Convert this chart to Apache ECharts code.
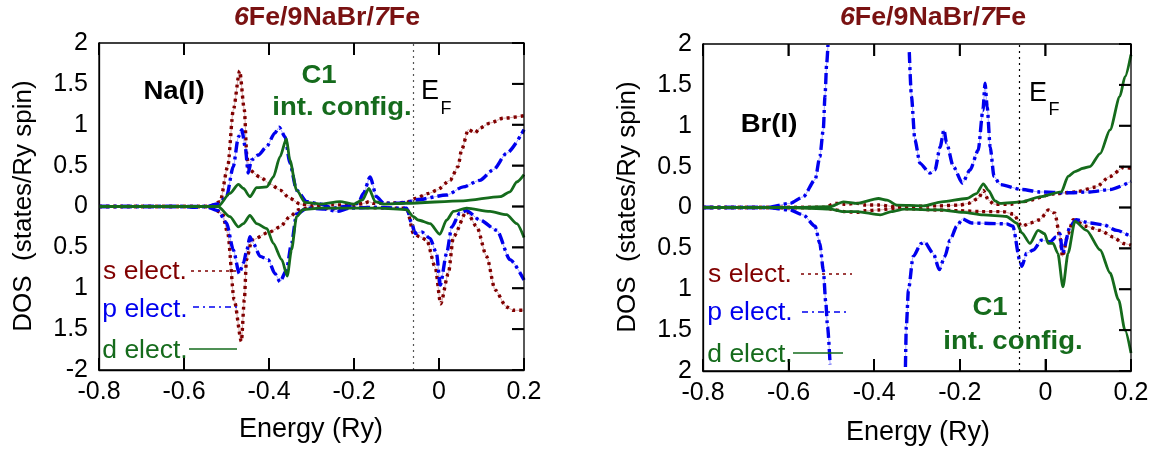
<!DOCTYPE html>
<html><head><meta charset="utf-8">
<script src="https://cdn.jsdelivr.net/npm/echarts@6/dist/echarts.min.js"></script>
<style>html,body{margin:0;padding:0;background:#fff}#c{width:1158px;height:453px}</style>
</head><body><div id="c"></div>
<script>
// ---- ticks and tick labels ----
const xTickValues = [-0.8, -0.6, -0.4, -0.2, 0, 0.2];
const xTickLabels = ['-0.8','-0.6','-0.4','-0.2','0','0.2'];
const yTickValues = [-2, -1.5, -1, -0.5, 0, 0.5, 1, 1.5, 2];
const yTickLabelsNa = ['-2','1.5','1','0.5','0','0.5','1','1.5','2'];
const yTickLabelsBr = ['2','1.5','1','0.5','0','0.5','1','1.5','2'];
const energyFermi = -0.055;

// ---- Na(I) panel: [energy (Ry), DOS] ; spin down plotted negative ----
const naSUp = [[-0.8,0],[-0.6,0],[-0.54,0],[-0.515,0.06],[-0.497,0.49],[-0.484,1.18],[-0.469,1.66],[-0.458,1.18],[-0.452,0.61],[-0.447,0.45],[-0.421,0.36],[-0.398,0.28],[-0.374,0.20],[-0.351,0.10],[-0.327,0.03],[-0.30,0.01],[-0.25,0.02],[-0.2,0.02],[-0.175,0.04],[-0.165,0.06],[-0.155,0.04],[-0.12,0.04],[-0.077,0.05],[-0.055,0.10],[-0.024,0.16],[-0.005,0.20],[0.026,0.32],[0.045,0.49],[0.053,0.69],[0.069,0.94],[0.085,0.90],[0.096,0.96],[0.12,1.02],[0.151,1.08],[0.2,1.11]];
const naSDn = [[-0.8,0],[-0.54,0],[-0.51,-0.08],[-0.497,-0.33],[-0.482,-1.14],[-0.465,-1.65],[-0.458,-1.14],[-0.453,-0.65],[-0.44,-0.41],[-0.398,-0.31],[-0.374,-0.25],[-0.351,-0.125],[-0.33,-0.04],[-0.3,-0.01],[-0.25,-0.03],[-0.2,-0.01],[-0.1,-0.02],[-0.076,-0.02],[-0.06,-0.33],[-0.045,-0.37],[-0.029,-0.41],[-0.009,-0.74],[0.004,-1.19],[0.022,-0.82],[0.034,-0.37],[0.065,-0.06],[0.089,-0.25],[0.112,-0.61],[0.132,-1.02],[0.159,-1.23],[0.175,-1.27],[0.2,-1.27]];
const naPUp = [[-0.8,0],[-0.6,0],[-0.58,-0.01],[-0.55,0],[-0.52,0.03],[-0.50,0.12],[-0.484,0.49],[-0.472,0.85],[-0.464,0.94],[-0.456,0.73],[-0.449,0.41],[-0.441,0.57],[-0.425,0.63],[-0.406,0.73],[-0.386,0.90],[-0.376,0.97],[-0.362,0.85],[-0.351,0.53],[-0.335,0.20],[-0.311,0.06],[-0.28,0.03],[-0.25,-0.02],[-0.22,0.0],[-0.19,0.04],[-0.178,0.16],[-0.162,0.36],[-0.147,0.12],[-0.13,0.04],[-0.1,0.04],[-0.077,0.05],[-0.055,0.08],[0.018,0.14],[0.057,0.24],[0.096,0.32],[0.128,0.45],[0.159,0.65],[0.2,0.94]];
const naPDn = [[-0.8,0],[-0.55,0],[-0.52,-0.05],[-0.50,-0.2],[-0.484,-0.53],[-0.47,-0.82],[-0.46,-0.69],[-0.452,-0.53],[-0.445,-0.37],[-0.437,-0.45],[-0.421,-0.61],[-0.402,-0.65],[-0.386,-0.82],[-0.374,-0.92],[-0.359,-0.78],[-0.347,-0.45],[-0.335,-0.09],[-0.31,-0.02],[-0.27,-0.03],[-0.24,-0.06],[-0.21,-0.02],[-0.15,-0.01],[-0.1,-0.02],[-0.076,-0.02],[-0.064,-0.21],[-0.056,-0.33],[-0.041,-0.31],[-0.021,-0.39],[-0.006,-0.57],[0.003,-0.96],[0.018,-0.57],[0.03,-0.25],[0.049,-0.08],[0.065,-0.05],[0.096,-0.165],[0.136,-0.29],[0.167,-0.65],[0.2,-0.90]];
const naDUp = [[-0.8,0],[-0.52,0],[-0.492,0.16],[-0.472,0.27],[-0.46,0.22],[-0.445,0.12],[-0.429,0.23],[-0.405,0.24],[-0.39,0.36],[-0.374,0.61],[-0.359,0.83],[-0.351,0.57],[-0.335,0.20],[-0.315,0.05],[-0.28,0.03],[-0.233,0.06],[-0.2,0.03],[-0.18,0.08],[-0.165,0.22],[-0.15,0.06],[-0.13,0.03],[-0.077,0.04],[0.057,0.07],[0.144,0.12],[0.167,0.18],[0.183,0.30],[0.2,0.39]];
const naDDn = [[-0.8,0],[-0.52,0],[-0.492,-0.125],[-0.472,-0.25],[-0.46,-0.21],[-0.445,-0.11],[-0.429,-0.21],[-0.405,-0.27],[-0.39,-0.45],[-0.37,-0.65],[-0.357,-0.85],[-0.347,-0.53],[-0.335,-0.125],[-0.32,-0.04],[-0.28,-0.02],[-0.2,-0.02],[-0.139,-0.02],[-0.076,-0.04],[-0.06,-0.125],[-0.049,-0.165],[-0.021,-0.21],[0.002,-0.34],[0.018,-0.165],[0.034,-0.06],[0.065,-0.02],[0.12,-0.06],[0.159,-0.10],[0.183,-0.21],[0.2,-0.38]];

// ---- Br(I) panel ----
const brSUp = [[-0.8,0],[-0.52,0],[-0.488,0.05],[-0.47,0.04],[-0.44,0.05],[-0.42,0.03],[-0.39,0.03],[-0.35,0.01],[-0.25,0.02],[-0.2,0.03],[-0.18,0.05],[-0.157,0.11],[-0.145,0.21],[-0.133,0.09],[-0.12,0.04],[-0.08,0.04],[-0.055,0.07],[0.025,0.17],[0.07,0.19],[0.118,0.25],[0.151,0.38],[0.182,0.49],[0.2,0.48]];
const brSDn = [[-0.8,0],[-0.52,0],[-0.49,-0.03],[-0.47,-0.05],[-0.44,-0.06],[-0.42,-0.04],[-0.39,-0.03],[-0.35,-0.01],[-0.25,-0.03],[-0.2,-0.04],[-0.15,-0.05],[-0.1,-0.05],[-0.075,-0.08],[-0.055,-0.23],[-0.036,-0.19],[-0.013,-0.15],[0.007,-0.03],[0.022,-0.07],[0.034,-0.36],[0.04,-0.60],[0.053,-0.32],[0.065,-0.15],[0.096,-0.23],[0.128,-0.28],[0.158,-0.36],[0.182,-0.44],[0.2,-0.46]];
const brPUp = [[-0.8,0],[-0.65,0],[-0.597,0.05],[-0.566,0.13],[-0.538,0.34],[-0.527,0.62],[-0.519,0.95],[-0.515,1.36],[-0.511,1.76],[-0.508,1.99],[-0.42,'-'],[-0.318,1.9],[-0.313,1.36],[-0.305,0.83],[-0.293,0.54],[-0.27,0.42],[-0.258,0.46],[-0.246,0.74],[-0.237,0.95],[-0.231,0.79],[-0.215,0.50],[-0.194,0.30],[-0.176,0.46],[-0.157,0.70],[-0.146,1.19],[-0.141,1.52],[-0.136,1.23],[-0.129,0.74],[-0.12,0.38],[-0.106,0.28],[-0.055,0.22],[-0.013,0.19],[0.05,0.18],[0.104,0.19],[0.151,0.22],[0.2,0.32]];
const brPDn = [[-0.8,0],[-0.65,0],[-0.597,-0.03],[-0.566,-0.09],[-0.538,-0.23],[-0.527,-0.44],[-0.519,-0.76],[-0.513,-1.17],[-0.509,-1.46],[-0.503,-1.92],[-0.42,'-'],[-0.327,-1.95],[-0.325,-1.46],[-0.32,-1.01],[-0.309,-0.60],[-0.29,-0.44],[-0.283,-0.42],[-0.262,-0.56],[-0.248,-0.76],[-0.235,-0.60],[-0.223,-0.40],[-0.207,-0.23],[-0.194,-0.14],[-0.172,-0.19],[-0.091,-0.20],[-0.076,-0.23],[-0.06,-0.64],[-0.055,-0.72],[-0.044,-0.56],[-0.028,-0.52],[-0.009,-0.40],[0.011,-0.42],[0.025,-0.36],[0.034,-0.32],[0.04,-0.56],[0.058,-0.23],[0.072,-0.15],[0.104,-0.19],[0.135,-0.21],[0.167,-0.28],[0.2,-0.36]];
const brDUp = [[-0.8,0],[-0.6,0],[-0.503,0.01],[-0.472,0.07],[-0.44,0.05],[-0.39,0.11],[-0.37,0.09],[-0.347,0.03],[-0.285,0.02],[-0.242,0.07],[-0.184,0.11],[-0.161,0.17],[-0.145,0.29],[-0.133,0.21],[-0.118,0.08],[-0.106,0.05],[-0.055,0.07],[-0.013,0.13],[0.037,0.19],[0.053,0.38],[0.069,0.44],[0.088,0.48],[0.104,0.50],[0.128,0.66],[0.151,0.95],[0.174,1.36],[0.186,1.60],[0.2,1.87]];
const brDDn = [[-0.8,0],[-0.6,0],[-0.503,-0.02],[-0.472,-0.05],[-0.44,-0.05],[-0.386,-0.09],[-0.36,-0.05],[-0.33,-0.02],[-0.247,-0.03],[-0.192,-0.06],[-0.145,-0.09],[-0.091,-0.11],[-0.067,-0.19],[-0.055,-0.31],[-0.036,-0.44],[-0.017,-0.28],[-0.002,-0.32],[0.007,-0.44],[0.018,-0.44],[0.029,-0.56],[0.041,-0.97],[0.053,-0.56],[0.069,-0.17],[0.096,-0.28],[0.128,-0.52],[0.151,-0.80],[0.171,-1.13],[0.186,-1.50],[0.2,-1.78]];

const FONT = "'Liberation Sans', Arial, sans-serif";
const C_S = '#800000', C_S_LIGHT = '#d8a8a8';
const C_P = '#0000ee', C_P_LIGHT = '#a8a8ff';
const C_D = '#156b1c';
const C_TITLE = '#7a1212';
const X_MIN = -0.8, X_MAX = 0.2, Y_MIN = -2, Y_MAX = 2, TICK_LEN = 12;

const chart = echarts.init(document.getElementById('c'), null, {renderer: 'canvas'});

function idxOf(v, arr) { let b = 0; arr.forEach((t, i) => { if (Math.abs(t - v) < Math.abs(arr[b] - v)) b = i; }); return b; }
const AXLINE = {show: true, onZero: false, lineStyle: {color: '#000', width: 1.3}};

function xAxis(g) {
  return {gridIndex: g, type: 'value', min: X_MIN, max: X_MAX, interval: 0.2, position: 'bottom',
    axisLine: AXLINE, splitLine: {show: false},
    axisTick: {show: true, inside: true, length: TICK_LEN, lineStyle: {color: '#000', width: 2}},
    axisLabel: {fontFamily: FONT, fontSize: 25, color: '#000', margin: 10,
      formatter: v => xTickLabels[idxOf(v, xTickValues)]}};
}
function yAxis(g, labels) {
  return {gridIndex: g, type: 'value', min: Y_MIN, max: Y_MAX, interval: 0.5, position: 'left',
    axisLine: AXLINE, splitLine: {show: false}, axisTick: {show: false},
    axisLabel: {fontFamily: FONT, fontSize: 25, color: '#000', margin: 11, padding: [0, 0, 8, 0],
      formatter: v => labels[idxOf(v, yTickValues)]}};
}

// inward tick marks on top and right edges, positioned by the axes' own scales
function edgeTickSeries(xi, yi) {
  const data = xTickValues.map(v => [v, Y_MAX]).concat(yTickValues.map(v => [X_MAX, v]));
  return {type: 'custom', xAxisIndex: xi, yAxisIndex: yi, z: 10,
    data: data,
    renderItem: (params, api) => {
      const x = api.value(0), y = api.value(1), p = api.coord([x, y]);
      const isTop = params.dataIndex < xTickValues.length;
      const shape = isTop ? {x: p[0] - 1, y: p[1], width: 2, height: TICK_LEN}
                          : {x: p[0] - TICK_LEN, y: p[1] - 1, width: TICK_LEN, height: 2};
      return {type: 'rect', shape: shape, style: {fill: '#000'}};
    }};
}

function line(data, xi, yi, color, width, type, z) {
  return {type: 'line', data: data, xAxisIndex: xi, yAxisIndex: yi, showSymbol: false, symbol: 'none',
    smooth: 0.25, smoothMonotone: 'x', connectNulls: false, clip: true, silent: true, z: z || 2,
    lineStyle: {color: color, width: width, type: type || 'solid', cap: 'butt'}};
}
const S_DASH = [3, 4];
const P_DASH = [11, 4, 3, 4];

function panelSeries(xi, yi, sUp, sDn, pUp, pDn, dUp, dDn, efColor) {
  const arr = [edgeTickSeries(xi, yi)];
  [sUp, sDn].forEach(d => { arr.push(line(d, xi, yi, C_S_LIGHT, 1, 'solid', 2)); arr.push(line(d, xi, yi, C_S, 3.4, S_DASH, 3)); });
  [pUp, pDn].forEach(d => { arr.push(line(d, xi, yi, C_P_LIGHT, 1, 'solid', 2)); arr.push(line(d, xi, yi, C_P, 3.4, P_DASH, 3)); });
  [dUp, dDn].forEach(d => { arr.push(line(d, xi, yi, C_D, 2.8, 'solid', 4)); });
  arr[1].markLine = {silent: true, symbol: 'none', label: {show: false}, animation: false,
    lineStyle: {color: efColor, width: 1.2, type: [2, 4]}, data: [{xAxis: energyFermi}]};
  return arr;
}

function txt(x, y, text, font, fill, extra) {
  return Object.assign({type: 'text', x: x, y: y, silent: true, z: 100,
    style: {text: text, font: font, fill: fill, align: 'center', verticalAlign: 'middle',
            textAlign: 'center', textVerticalAlign: 'middle'}}, extra || {});
}
function richTitle(x, y) {
  return {type: 'text', x: x, y: y, silent: true, z: 100, scaleX: 1.03,
    style: {text: '{i|6}{b|Fe/9NaBr/}{i|7}{b|Fe}', align: 'center', verticalAlign: 'middle',
      textAlign: 'center', textVerticalAlign: 'middle', fill: C_TITLE,
      rich: {i: {fontFamily: FONT, fontSize: 26, fontWeight: 'bold', fontStyle: 'italic', fill: C_TITLE, color: C_TITLE},
             b: {fontFamily: FONT, fontSize: 26, fontWeight: 'bold', fill: C_TITLE, color: C_TITLE}}}};
}
function seg(x1, y1, x2, y2, color, width, dash) {
  return {type: 'line', silent: true, z: 100, shape: {x1: x1, y1: y1, x2: x2, y2: y2},
    style: {stroke: color, lineWidth: width, lineDash: dash || null}};
}

const B = 'bold 26px ' + FONT, N = '25px ' + FONT, NAME = '27px ' + FONT;
const W = {scaleX: 1.06};
const graphics = [
  richTitle(327, 18), richTitle(933, 18),
  txt(24, 206, 'DOS  (states/Ry spin)', '26px ' + FONT, '#000', {rotation: Math.PI / 2}),
  txt(628, 207, 'DOS  (states/Ry spin)', '26px ' + FONT, '#000', {rotation: Math.PI / 2}),
  txt(311, 430, 'Energy (Ry)', NAME, '#000'),
  txt(918, 433, 'Energy (Ry)', NAME, '#000'),
  txt(174, 92, 'Na(I)', B, '#000', W),
  txt(769, 125, 'Br(I)', B, '#000', W),
  txt(319, 76, 'C1', B, C_D, W),
  txt(342, 108, 'int. config.', B, C_D, W),
  txt(990, 308, 'C1', B, C_D, W),
  txt(1013, 342, 'int. config.', B, C_D, W),
  txt(430, 92, 'E', '27px ' + FONT, '#000'), txt(446, 109, 'F', '18px ' + FONT, '#000'),
  txt(1038, 94, 'E', '27px ' + FONT, '#000'), txt(1054, 110, 'F', '18px ' + FONT, '#000'),
  // legend (left)
  txt(145, 272, 's elect.', N, C_S, W), seg(191, 271, 237, 271, C_S, 1.3, [3, 4]),
  txt(145, 310, 'p elect.', N, C_P, W), seg(193, 307, 239, 307, C_P, 1.3, [6, 4, 2, 4]),
  txt(145, 351, 'd elect.', N, C_D, W), seg(189, 349, 237, 349, C_D, 1.3),
  // legend (right)
  txt(750, 275, 's elect.', N, C_S, W), seg(801, 274, 852, 274, C_S, 1.3, [3, 4]),
  txt(750, 313, 'p elect.', N, C_P, W), seg(802, 312, 847, 312, C_P, 1.3, [6, 4, 2, 4]),
  txt(750, 355, 'd elect.', N, C_D, W), seg(793, 353, 843, 353, C_D, 1.3),
  // plot box
  {type: 'rect', silent: true, z: 50, shape: {x: 99, y: 43, width: 425, height: 327}, style: {fill: null, stroke: '#000', lineWidth: 1.3}},
  {type: 'rect', silent: true, z: 50, shape: {x: 703, y: 44, width: 428, height: 327}, style: {fill: null, stroke: '#000', lineWidth: 1.3}}
];

const option = {
  animation: false,
  backgroundColor: '#fff',
  grid: [
    {left: 99, top: 43, width: 425, height: 327, show: false},
    {left: 703, top: 44, width: 428, height: 327, show: false}
  ],
  xAxis: [xAxis(0), xAxis(1)],
  yAxis: [yAxis(0, yTickLabelsNa), yAxis(1, yTickLabelsBr)],
  series: [].concat(
    panelSeries(0, 0, naSUp, naSDn, naPUp, naPDn, naDUp, naDDn, '#555'),
    panelSeries(1, 1, brSUp, brSDn, brPUp, brPDn, brDUp, brDDn, '#000')
  ),
  graphic: graphics
};
chart.setOption(option);

// extra inward ticks (all four edges except left) placed through the grids' scales
try {
  const tickEls = [];
  const st = {stroke: '#000', lineWidth: 1.6};
  [0, 1].forEach(g => {
    xTickValues.forEach(v => {
      const pt = chart.convertToPixel({gridIndex: g}, [v, Y_MAX]);
      const pb = chart.convertToPixel({gridIndex: g}, [v, Y_MIN]);
      tickEls.push({type: 'line', silent: true, z: 120, shape: {x1: pt[0], y1: pt[1], x2: pt[0], y2: pt[1] + TICK_LEN}, style: st});
      tickEls.push({type: 'line', silent: true, z: 120, shape: {x1: pb[0], y1: pb[1], x2: pb[0], y2: pb[1] - TICK_LEN}, style: st});
    });
    yTickValues.forEach(v => {
      const pr = chart.convertToPixel({gridIndex: g}, [X_MAX, v]);
      tickEls.push({type: 'line', silent: true, z: 120, shape: {x1: pr[0], y1: pr[1], x2: pr[0] - TICK_LEN, y2: pr[1]}, style: st});
    });
  });
  chart.setOption({graphic: graphics.concat(tickEls)});
} catch (e) {}
</script></body></html>
